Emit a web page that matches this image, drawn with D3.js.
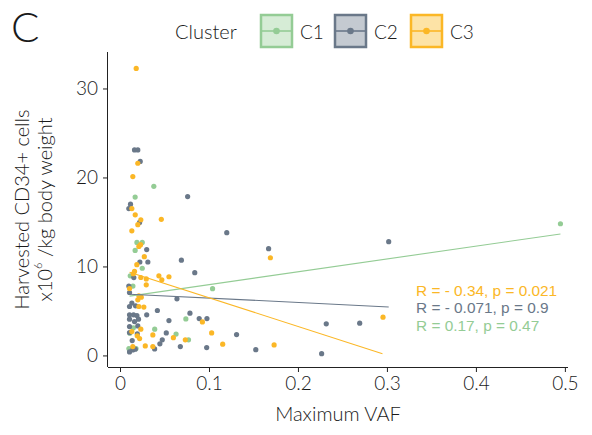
<!DOCTYPE html>
<html>
<head>
<meta charset="utf-8">
<script src="https://cdn.jsdelivr.net/npm/d3@7"></script>
<style>
  body { margin: 0; background: #fff; }
  svg text { font-family: Lato, "Liberation Sans", Arial, sans-serif; font-weight: 300; fill: #1a1a1a; }
</style>
</head>
<body>
<svg id="chart" width="592" height="435"></svg>
<script>
// clusters and colours
const clusters = ["C1", "C2", "C3"];
const colors = { C1: "#94cc95", C2: "#6a7889", C3: "#fbb726" };
const keyFills = { C1: "#d6ecd6", C2: "#c4cad1", C3: "#fde3a6" };

// points: [maximum VAF, CD34+ cells x10^6/kg]
const c1Points = [
  [0.038, 19.0], [0.017, 17.8], [0.019, 12.7], [0.025, 12.7], [0.017, 11.8],
  [0.025, 9.8], [0.0115, 8.95], [0.104, 7.5], [0.0145, 7.8], [0.074, 4.1],
  [0.015, 3.1], [0.039, 2.95], [0.011, 2.5], [0.063, 2.4], [0.077, 1.75],
  [0.010, 0.77], [0.018, 0.77], [0.495, 14.8]
];
const c2Points = [
  [0.0163, 23.1], [0.020, 23.1], [0.0227, 21.8], [0.076, 17.85], [0.0118, 17.0],
  [0.0099, 16.5], [0.022, 14.95], [0.030, 11.9], [0.0223, 10.5], [0.0313, 10.5],
  [0.069, 10.7], [0.084, 9.3], [0.0155, 8.75], [0.0099, 7.8], [0.0107, 7.07],
  [0.064, 6.36], [0.0133, 5.88], [0.0175, 5.57], [0.0107, 5.5], [0.042, 5.05],
  [0.0107, 4.56], [0.0152, 4.56], [0.019, 4.48], [0.030, 4.56], [0.0786, 4.75],
  [0.0107, 4.08], [0.0163, 3.8], [0.0208, 4.08], [0.089, 4.14], [0.0977, 4.14],
  [0.055, 3.92], [0.0107, 3.24], [0.020, 3.32], [0.0107, 2.57], [0.0194, 2.42],
  [0.052, 2.53], [0.0475, 1.75], [0.0137, 1.67], [0.0448, 1.3], [0.0389, 0.73],
  [0.0678, 0.99], [0.0974, 0.88], [0.0107, 0.39], [0.0144, 0.62], [0.0171, 0.7],
  [0.120, 13.8], [0.167, 12.0], [0.302, 12.78], [0.2318, 3.55], [0.2694, 3.63],
  [0.131, 2.34], [0.1526, 0.65], [0.2266, 0.2]
];
const c3Points = [
  [0.0182, 32.25], [0.020, 21.6], [0.0144, 20.1], [0.0133, 16.5], [0.0171, 15.8],
  [0.0464, 15.3], [0.0234, 15.25], [0.020, 14.7], [0.0133, 14.0], [0.0212, 12.25],
  [0.0231, 12.45], [0.0273, 11.1], [0.0189, 10.2], [0.0163, 9.44], [0.0149, 9.18],
  [0.0234, 8.76], [0.0295, 8.6], [0.0437, 8.95], [0.047, 8.5], [0.055, 8.84],
  [0.0295, 7.94], [0.0107, 7.52], [0.0212, 6.7], [0.0239, 6.55], [0.020, 6.25],
  [0.0212, 5.5], [0.0268, 5.43], [0.0926, 3.77], [0.0234, 2.95], [0.0133, 2.68],
  [0.0369, 2.31], [0.103, 2.53], [0.0194, 2.2], [0.022, 1.89], [0.06, 2.0],
  [0.0734, 1.75], [0.0284, 1.07], [0.0369, 0.99], [0.0144, 0.99], [0.169, 10.98],
  [0.2956, 4.3], [0.1154, 1.26], [0.1732, 1.18]
];

// linear fit lines (end points)
const fitC1 = [[0.0107, 6.67], [0.495, 13.65]];
const fitC2 = [[0.0107, 6.88], [0.302, 5.45]];
const fitC3 = [[0.0107, 9.35], [0.295, 0.2]];

// correlation labels, top to bottom
const corLabels = [
  { cluster: "C3", text: "R = - 0.34, p = 0.021" },
  { cluster: "C2", text: "R = - 0.071, p = 0.9" },
  { cluster: "C1", text: "R = 0.17, p = 0.47" }
];

// ticks
const xTicks = [0, 0.1, 0.2, 0.3, 0.4, 0.5];
const xTickLabels = ["0", "0.1", "0.2", "0.3", "0.4", "0.5"];
const yTicks = [0, 10, 20, 30];
const yTickLabels = ["0", "10", "20", "30"];

const pointsBy = { C1: c1Points, C2: c2Points, C3: c3Points };
const fitsBy = { C1: fitC1, C2: fitC2, C3: fitC3 };

const svg = d3.select("#chart");

const panel = { left: 108, right: 568, top: 52, bottom: 367 };

const x = d3.scaleLinear().domain([-0.0135, 0.5035]).range([panel.left, panel.right]);
const y = d3.scaleLinear().domain([-1.3, 34.1]).range([panel.bottom, panel.top]);

// axes
const xAxis = svg.append("g")
  .attr("transform", `translate(0,${panel.bottom})`)
  .call(d3.axisBottom(x).tickValues(xTicks).tickSize(5).tickSizeOuter(0).tickPadding(5)
    .tickFormat((d, i) => xTickLabels[i]));
const yAxis = svg.append("g")
  .attr("transform", `translate(${panel.left},0)`)
  .call(d3.axisLeft(y).tickValues(yTicks).tickSize(5).tickSizeOuter(0).tickPadding(5)
    .tickFormat((d, i) => yTickLabels[i]));

[xAxis, yAxis].forEach(a => {
  a.selectAll("path, line").attr("stroke", "#222").attr("stroke-width", 1);
  a.selectAll("text").attr("font-size", 19).attr("fill", "#1a1a1a")
    .style("font-family", 'Lato, "Liberation Sans", Arial, sans-serif');
});
xAxis.select(".domain").attr("d", `M${panel.left},0.5H${panel.right}`);
yAxis.select(".domain").attr("d", `M-0.5,${panel.top}V${panel.bottom}`);

// points
clusters.forEach(c => {
  svg.append("g").selectAll("circle")
    .data(pointsBy[c])
    .enter().append("circle")
    .attr("cx", d => x(d[0]))
    .attr("cy", d => y(d[1]))
    .attr("r", 2.6)
    .attr("fill", colors[c]);
});

// fit lines
const line = d3.line().x(d => x(d[0])).y(d => y(d[1]));
clusters.forEach(c => {
  svg.append("path")
    .attr("d", line(fitsBy[c]))
    .attr("fill", "none")
    .attr("stroke", colors[c])
    .attr("stroke-width", 1.1);
});

// correlation text
svg.append("g").selectAll("text")
  .data(corLabels)
  .enter().append("text")
  .attr("x", 416)
  .attr("y", (d, i) => 290 + i * 17.7)
  .attr("dominant-baseline", "central")
  .attr("font-size", 15.4)
  .style("font-family", '"Liberation Sans", Arial, sans-serif')
  .style("font-weight", 400)
  .style("fill", d => colors[d.cluster])
  .text(d => d.text);

// axis titles
svg.append("text")
  .attr("x", (panel.left + panel.right) / 2)
  .attr("y", 413)
  .attr("text-anchor", "middle")
  .attr("dominant-baseline", "central")
  .attr("font-size", 20)
  .text("Maximum VAF");

const yTitle = svg.append("g")
  .attr("transform", `translate(0,${(panel.top + panel.bottom) / 2}) rotate(-90)`);
yTitle.append("text")
  .attr("x", 0).attr("y", 21)
  .attr("text-anchor", "middle")
  .attr("dominant-baseline", "central")
  .attr("font-size", 20)
  .text("Harvested CD34+ cells");
const t2 = yTitle.append("text")
  .attr("x", 0).attr("y", 44)
  .attr("text-anchor", "middle")
  .attr("dominant-baseline", "central")
  .attr("font-size", 20);
t2.append("tspan").text("x10");
t2.append("tspan").attr("font-size", 11).attr("dy", -7).text("6");
t2.append("tspan").attr("dy", 7).text(" /kg body weight");

// panel tag
svg.append("text")
  .attr("x", 11).attr("y", 42)
  .attr("font-size", 42)
  .text("C");

// legend
svg.append("text")
  .attr("x", 175).attr("y", 31)
  .attr("dominant-baseline", "central")
  .attr("font-size", 20)
  .text("Cluster");

const keyX = { C1: 260, C2: 334, C3: 410 };
clusters.forEach(c => {
  const g = svg.append("g").attr("transform", `translate(${keyX[c]},14)`);
  g.append("rect")
    .attr("x", 1).attr("y", 1).attr("width", 31).attr("height", 32)
    .attr("fill", keyFills[c]).attr("stroke", colors[c]).attr("stroke-width", 2.5);
  g.append("line")
    .attr("x1", 1).attr("x2", 32).attr("y1", 17).attr("y2", 17)
    .attr("stroke", colors[c]).attr("stroke-width", 1.6);
  g.append("circle").attr("cx", 16.5).attr("cy", 17).attr("r", 3.3).attr("fill", colors[c]);
  g.append("text")
    .attr("x", 40).attr("y", 17)
    .attr("dominant-baseline", "central")
    .attr("font-size", 19)
    .text(c);
});
</script>
</body>
</html>
